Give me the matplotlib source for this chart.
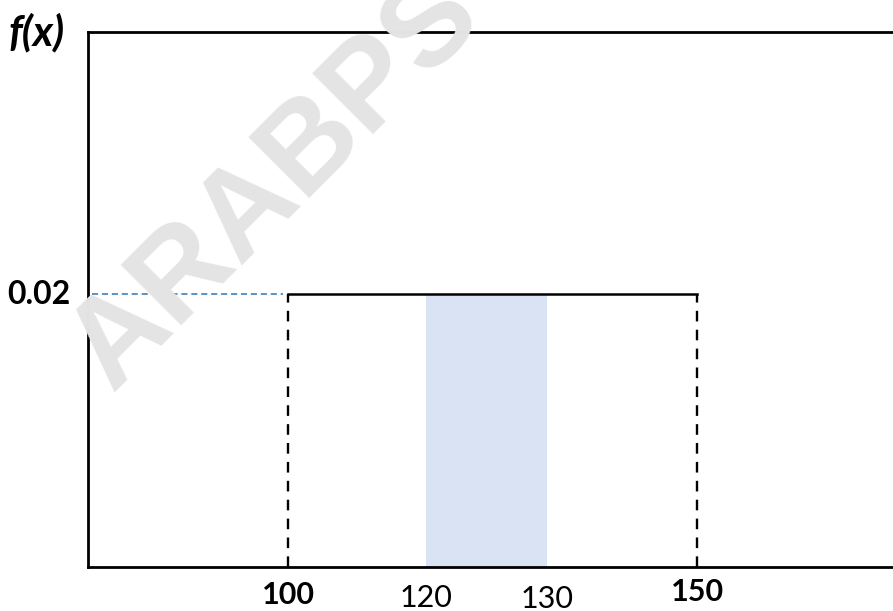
import numpy as np
import matplotlib.pyplot as plt

# uniform distribution f(x) = 1/(150-100) on [100, 150]
a, b = 100, 150
density = 0.02
shade_lo, shade_hi = 120, 130
bold_ticks = [100, 150]
plain_ticks = [120, 130]
y_label = "0.02"

# diagram is not drawn to scale -> piecewise linear x scale
x_anchor = [60, 100, 120, 130, 150, 190]
x_pix = [-39.2, 288, 426, 547, 697, 1024]

def fwd(x):
    return np.interp(x, x_anchor, x_pix)

def inv(p):
    return np.interp(p, x_pix, x_anchor)

FONT = ["Lato", "DejaVu Sans"]

fig = plt.figure(figsize=(8.93, 6.11), dpi=100)
ax = fig.add_axes([88/893, 44/611, 1 - 88/893, (567 - 32)/611])
ax.set_xscale("function", functions=(fwd, inv))
ax.set_xlim(75.55, 173.96)
ax.set_ylim(0, 0.0392)

for s in ["left", "top", "bottom"]:
    ax.spines[s].set_linewidth(2.0)
    ax.spines[s].set_color("black")
ax.spines["right"].set_visible(False)
ax.set_xticks([])
ax.set_yticks([])

# watermark
fig.text(112/893, 1 - 392/611, "ARABPSYCHOLOGY", rotation=45, rotation_mode="anchor",
         ha="left", va="baseline", fontsize=90, fontweight="bold",
         family="Liberation Sans", color="#E4E4E4", zorder=0)

# shaded probability area
ax.fill_between([shade_lo, shade_hi], 0, density, color="#DAE3F3", lw=0, zorder=1)

# density line and dashed bounds
ax.plot([a, b], [density, density], color="black", lw=1.8, zorder=3)
ax.plot([a, a], [0, density], color="black", lw=1.7, ls=(0, (4.5, 3.5)), zorder=3)
ax.plot([b, b], [0, density], color="black", lw=1.7, ls=(0, (4.5, 3.5)), zorder=3)
ax.plot([ax.get_xlim()[0] + 0.5, a - 0.6], [density, density], color="#2E75B6",
        lw=1.1, ls=(0, (4, 2.5)), zorder=3)

# labels
tr = ax.get_xaxis_transform()
ax.text(bold_ticks[0], -0.052, str(bold_ticks[0]), transform=tr, ha="center", va="center",
        fontsize=22, fontweight="bold", family=FONT)
ax.text(bold_ticks[1], -0.047, str(bold_ticks[1]), transform=tr, ha="center", va="center",
        fontsize=22, fontweight="bold", family=FONT)
ax.text(plain_ticks[0], -0.058, str(plain_ticks[0]), transform=tr, ha="center", va="center",
        fontsize=22, family=FONT)
ax.text(plain_ticks[1], -0.06, str(plain_ticks[1]), transform=tr, ha="center", va="center",
        fontsize=22, family=FONT)

ax.text(-17/805, density, y_label, transform=ax.get_yaxis_transform(), ha="right",
        va="center", fontsize=23, fontweight="bold", family=FONT)
fig.text(8/893, 1 - 33/611, "f(x)", ha="left", va="center", fontsize=30,
         fontweight="bold", fontstyle="italic", family=FONT)

fig.savefig("out.png", dpi=100)
